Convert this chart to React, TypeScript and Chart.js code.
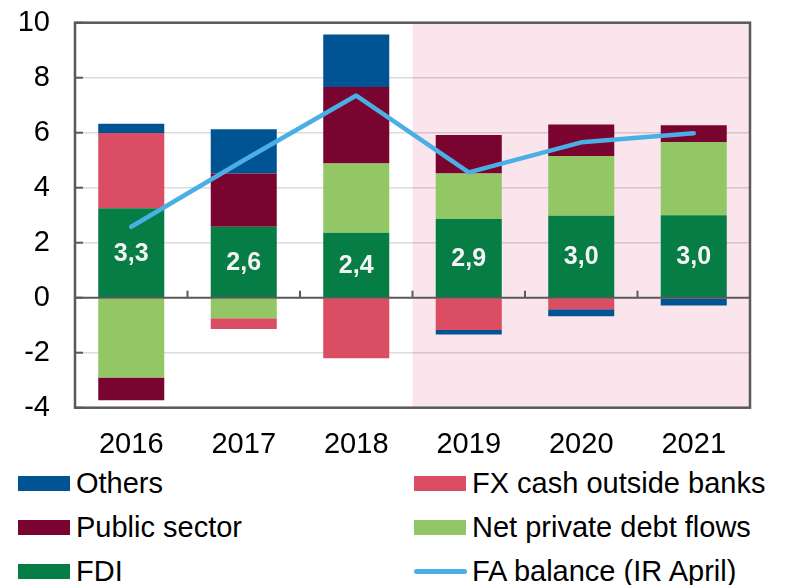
import React, { useEffect, useRef } from "react";
import { Chart, registerables } from "chart.js";

Chart.register(...registerables);

const years = ["2016", "2017", "2018", "2019", "2020", "2021"];
const fdi = [3.25, 2.58, 2.36, 2.86, 2.98, 3.0];
const netPrivate = [-2.9, -0.75, 2.52, 1.66, 2.17, 2.66];
const fxCash = [2.74, -0.39, -2.2, -1.17, -0.42, 0];
const publicSector = [-0.83, 1.94, 2.78, 1.4, 1.15, 0.61];
const others = [0.34, 1.61, 1.91, -0.17, -0.25, -0.28];
const faBalance = [2.58, 5.0, 7.35, 4.56, 5.65, 5.98];
const yMin = -4;
const yMax = 10;
const yStep = 2;
const shadedFrom = 3; // index of first shaded year (2019)

const C_OTHERS = "#005493";
const C_FX = "#DB4D63";
const C_PUBLIC = "#7A0430";
const C_NETPRIV = "#93C664";
const C_FDI = "#077D46";
const C_LINE = "#4AAFE4";
const C_PINK = "#FBE5EC";
const C_AXIS = "#595959";
const FONT = "'Liberation Sans', Arial, Helvetica, sans-serif";

const legendItems = [
  { label: "Others", color: C_OTHERS, type: "box", col: 0, row: 0 },
  { label: "FX cash outside banks", color: C_FX, type: "box", col: 1, row: 0 },
  { label: "Public sector", color: C_PUBLIC, type: "box", col: 0, row: 1 },
  { label: "Net private debt flows", color: C_NETPRIV, type: "box", col: 1, row: 1 },
  { label: "FDI", color: C_FDI, type: "box", col: 0, row: 2 },
  { label: "FA balance (IR April)", color: C_LINE, type: "line", col: 1, row: 2 },
];

const CANVAS_H = 460;
const PLOT_BOTTOM = 407.7;

const decorPlugin = {
  id: "decor",
  beforeDraw(chart: any) {
    const { ctx, chartArea, scales } = chart;
    const x = scales.x;
    const xs = (x.getPixelForValue(shadedFrom - 1) + x.getPixelForValue(shadedFrom)) / 2;
    ctx.save();
    ctx.fillStyle = C_PINK;
    ctx.fillRect(xs, chartArea.top, chartArea.right - xs, chartArea.bottom - chartArea.top);
    ctx.restore();
  },
  afterDatasetsDraw(chart: any) {
    const { ctx, chartArea, scales } = chart;
    const x = scales.x;
    const y = scales.y;
    const y0 = y.getPixelForValue(0);
    ctx.save();
    // zero line
    ctx.strokeStyle = C_AXIS;
    ctx.lineWidth = 2;
    ctx.beginPath();
    ctx.moveTo(chartArea.left, y0);
    ctx.lineTo(chartArea.right, y0);
    ctx.stroke();
    // category boundary ticks on zero line
    const n = years.length;
    for (let i = 1; i <= n; i++) {
      const bx = i === n ? chartArea.right : (x.getPixelForValue(i - 1) + x.getPixelForValue(i)) / 2;
      ctx.beginPath();
      ctx.moveTo(bx, y0);
      ctx.lineTo(bx, y0 - 7);
      ctx.stroke();
    }
    // y inward ticks
    for (let v = yMin; v <= yMax; v += yStep) {
      const py = y.getPixelForValue(v);
      ctx.beginPath();
      ctx.moveTo(chartArea.left, py);
      ctx.lineTo(chartArea.left + 8, py);
      ctx.stroke();
    }
    // FDI value labels
    const meta = chart.getDatasetMeta(0);
    ctx.fillStyle = "#F4F4F4";
    ctx.font = `bold 25px ${FONT}`;
    ctx.textAlign = "center";
    ctx.textBaseline = "middle";
    meta.data.forEach((el: any, i: number) => {
      const cy = (el.y + el.base) / 2;
      ctx.fillText(fdi[i].toFixed(1).replace(".", ","), el.x, cy + 1);
    });
    ctx.restore();
  },
  afterDraw(chart: any) {
    const { ctx, chartArea } = chart;
    ctx.save();
    ctx.strokeStyle = C_AXIS;
    ctx.lineWidth = 2.5;
    ctx.strokeRect(chartArea.left, chartArea.top, chartArea.right - chartArea.left, chartArea.bottom - chartArea.top);
    ctx.restore();
  },
};

export default function App() {
  const ref = useRef<HTMLCanvasElement | null>(null);

  useEffect(() => {
    document.body.style.margin = "0";
    if (!ref.current) return;
    const barCommon = {
      type: "bar" as const,
      order: 1,
      stack: "s",
      barPercentage: 0.587,
      categoryPercentage: 1,
      borderWidth: 0,
    };
    const chart = new Chart(ref.current, {
      type: "bar",
      data: {
        labels: years,
        datasets: [
          { ...barCommon, label: "FDI", data: fdi, backgroundColor: C_FDI },
          { ...barCommon, label: "Net private debt flows", data: netPrivate, backgroundColor: C_NETPRIV },
          { ...barCommon, label: "FX cash outside banks", data: fxCash, backgroundColor: C_FX },
          { ...barCommon, label: "Public sector", data: publicSector, backgroundColor: C_PUBLIC },
          { ...barCommon, label: "Others", data: others, backgroundColor: C_OTHERS },
          {
            type: "line" as const,
            label: "FA balance (IR April)",
            data: faBalance,
            order: 0,
            stack: "line",
            borderColor: C_LINE,
            backgroundColor: C_LINE,
            borderWidth: 4.5,
            borderCapStyle: "round",
            borderJoinStyle: "round",
            pointRadius: 0,
            tension: 0,
            fill: false,
          } as any,
        ],
      },
      options: {
        animation: false,
        responsive: false,
        maintainAspectRatio: false,
        layout: { padding: { top: 22.7, right: 36, left: 0, bottom: 0 } },
        plugins: { legend: { display: false }, tooltip: { enabled: false } },
        scales: {
          x: {
            stacked: true,
            grid: { display: false, drawTicks: false },
            border: { display: false },
            ticks: { color: "#000", font: { family: FONT, size: 29 }, padding: 20 },
            afterFit: (s: any) => {
              s.height = CANVAS_H - PLOT_BOTTOM;
            },
          },
          y: {
            stacked: true,
            min: yMin,
            max: yMax,
            border: { display: false },
            grid: {
              drawTicks: true,
              tickLength: 25,
              tickColor: "rgba(0,0,0,0)",
              color: (c: any) => (c.tick && c.tick.value === 0 ? "rgba(0,0,0,0)" : "rgba(0,0,0,0.14)"),
              lineWidth: 1.5,
            },
            ticks: {
              stepSize: yStep,
              color: "#000",
              font: { family: FONT, size: 29 },
              padding: 0,
              callback: (v: any) => String(v),
            },
            afterFit: (s: any) => {
              s.width = 75;
            },
          },
        },
      },
      plugins: [decorPlugin],
    });
    return () => chart.destroy();
  }, []);

  const colX = [18, 414];
  const rowY = [483, 527, 571];

  return (
    <div style={{ position: "relative", width: 786, height: 585, background: "#fff", overflow: "hidden" }}>
      <canvas ref={ref} width={786} height={CANVAS_H} style={{ display: "block", width: 786, height: CANVAS_H }} />
      {legendItems.map((it) => (
        <div
          key={it.label}
          style={{
            position: "absolute",
            left: colX[it.col],
            top: rowY[it.row] - 20,
            height: 40,
            display: "flex",
            alignItems: "center",
            fontFamily: FONT,
            fontSize: 29,
            color: "#000",
            whiteSpace: "nowrap",
          }}
        >
          {it.type === "box" ? (
            <span style={{ display: "inline-block", width: 52, height: 15, background: it.color, marginRight: 6 }} />
          ) : (
            <span style={{ display: "inline-block", width: 53, height: 5, borderRadius: 3, background: it.color, marginRight: 5 }} />
          )}
          <span>{it.label}</span>
        </div>
      ))}
    </div>
  );
}
